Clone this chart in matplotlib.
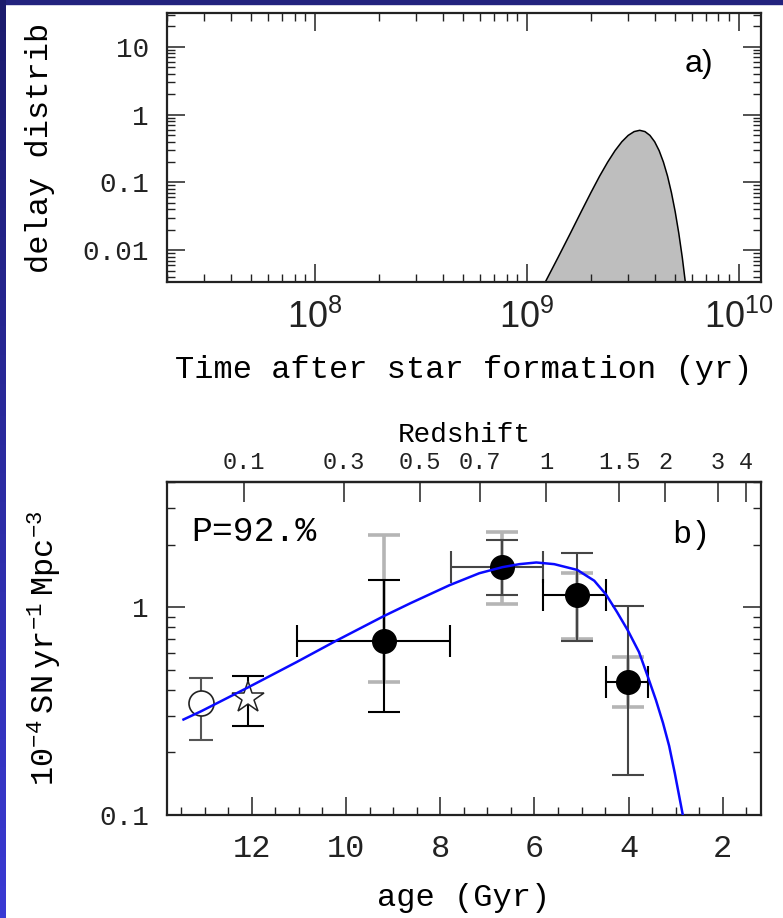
import numpy as np
import matplotlib
matplotlib.use("Agg")
import matplotlib.pyplot as plt
from matplotlib.ticker import FixedLocator, NullLocator, LogLocator, MultipleLocator, NullFormatter
from matplotlib.colors import LinearSegmentedColormap
from matplotlib.patches import Rectangle

# ---------------- data ----------------
# panel a: delay-time distribution (time in Gyr, value)
dtd_time_gyr = [1.22, 1.4, 1.6, 1.8, 2.0, 2.2, 2.4, 2.6, 2.8, 3.0, 3.2, 3.4,
                3.6, 3.8, 4.0, 4.2, 4.4, 4.6, 4.8, 5.0, 5.2, 5.4, 5.58]
dtd_value = [0.0034, 0.0078, 0.0177, 0.0369, 0.0705, 0.124, 0.199, 0.294, 0.398,
             0.494, 0.562, 0.587, 0.562, 0.494, 0.398, 0.294, 0.199, 0.124,
             0.0705, 0.0369, 0.0177, 0.0078, 0.0034]

# panel b: model SN Ia rate (age in Gyr, rate)
model_age = [13.45, 13.07, 12.07, 11.05, 10.22, 9.20, 8.63, 7.80, 7.17, 6.68, 6.32,
             5.96, 5.58, 5.09, 4.73, 4.48, 4.25, 4.02, 3.78, 3.59, 3.42, 3.27,
             3.14, 3.02, 2.85]
model_rate = [0.288, 0.316, 0.412, 0.544, 0.687, 0.905, 1.045, 1.276, 1.456, 1.557,
              1.61, 1.64, 1.61, 1.51, 1.34, 1.15, 0.95, 0.775, 0.608, 0.461,
              0.357, 0.277, 0.215, 0.159, 0.100]

# filled points
pt_age = [9.20, 6.68, 5.09, 4.02]
pt_rate = [0.687, 1.56, 1.15, 0.437]
pt_age_old = [11.05, 7.78, 5.81, 4.49]   # older edge of bin (left)
pt_age_young = [7.79, 5.81, 4.49, 3.59]  # younger edge of bin (right)
stat_lo = [0.314, 1.15, 0.687, 0.156]
stat_hi = [1.35, 2.10, 1.82, 1.01]
sys_lo = [0.437, 1.03, 0.70, 0.332]
sys_hi = [2.22, 2.30, 1.46, 0.577]

# open circle and open star
circ_age, circ_rate, circ_lo, circ_hi = 13.07, 0.344, 0.229, 0.457
star_age, star_rate, star_lo, star_hi = 12.07, 0.364, 0.269, 0.466

redshift_ticks = [0.1, 0.3, 0.5, 0.7, 1, 1.5, 2, 3, 4]
redshift_labels = ["0.1", "0.3", "0.5", "0.7", "1", "1.5", "2", "3", "4"]
age_ticks = [2, 4, 6, 8, 10, 12]
age_labels = ["2", "4", "6", "8", "10", "12"]

# ---------------- style ----------------
plt.rcParams['font.family'] = ['Liberation Mono', 'DejaVu Sans']
plt.rcParams['mathtext.fontset'] = 'custom'
plt.rcParams['mathtext.rm'] = 'Liberation Mono'
plt.rcParams['mathtext.it'] = 'Liberation Mono:italic'
plt.rcParams['mathtext.bf'] = 'Liberation Mono:bold'
plt.rcParams['mathtext.sf'] = 'Liberation Sans'

W, H = 783, 918
fig = plt.figure(figsize=(W / 100, H / 100), dpi=100)
fig.patch.set_facecolor('white')

# blue border strips
cmap = LinearSegmentedColormap.from_list('b', ['#1b1b6c', '#3a3ad4'])
bl = fig.add_axes([0, 0, 6 / W, 1])
bl.imshow(np.linspace(0, 1, 256)[:, None], aspect='auto', cmap=cmap, origin='upper')
bl.set_axis_off()
fig.add_artist(Rectangle((0, 1 - 4 / H), 1, 4 / H, transform=fig.transFigure,
                         color='#23237e', zorder=0))

SP = 1.6
ax1 = fig.add_axes([167 / W, 1 - 282 / H, 594 / W, 269 / H])
ax2 = fig.add_axes([167 / W, 1 - 815 / H, 594 / W, 333 / H])

# ---------------- panel a ----------------
t_yr = [t * 1e9 for t in dtd_time_gyr]
ax1.set_xscale('log')
ax1.set_yscale('log')
ax1.fill_between(t_yr, dtd_value, 1e-6, facecolor='#bebebe', edgecolor='none', zorder=1)
ax1.plot(t_yr, dtd_value, color='black', lw=1.1, zorder=2)
ax1.set_xlim(2e7, 1.27e10)
ax1.set_ylim(10 ** -2.47, 10 ** 1.5)
ax1.xaxis.set_major_locator(FixedLocator([1e8, 1e9, 1e10]))
ax1.set_xticklabels([r'$\mathsf{10^{8}}$', r'$\mathsf{10^{9}}$', r'$\mathsf{10^{10}}$'],
                    fontsize=26)
ax1.xaxis.set_minor_locator(LogLocator(base=10, subs=np.arange(2, 10)))
ax1.xaxis.set_minor_formatter(NullFormatter())
ax1.yaxis.set_major_locator(FixedLocator([0.01, 0.1, 1, 10]))
ax1.set_yticklabels(['0.01', '0.1', '1', '10'], fontsize=20)
ax1.yaxis.set_minor_locator(LogLocator(base=10, subs=np.arange(2, 10)))
ax1.yaxis.set_minor_formatter(NullFormatter())
ax1.tick_params(which='both', direction='in', top=True, right=True, colors='#222222')
ax1.tick_params(which='major', length=13, width=1.1)
ax1.tick_params(which='minor', length=6, width=1.0)
ax1.tick_params(axis='x', which='major', pad=13)
ax1.tick_params(axis='y', which='major', pad=13)
for s in ax1.spines.values():
    s.set_linewidth(SP)
    s.set_color('#222222')
ax1.set_xlabel('Time after star formation (yr)', fontsize=23)
ax1.xaxis.set_label_coords(0.5, -0.327)
ax1.xaxis.label.set_va('center')
ax1.set_ylabel('delay distrib', fontsize=23)
ax1.yaxis.set_label_coords(-0.214, 0.5)
ax1.yaxis.label.set_va('center')
ax1.text(0.919, 0.81, 'a)', transform=ax1.transAxes, ha='right', va='center',
         fontsize=23, family='Liberation Sans')

# ---------------- panel b ----------------
ax2.set_yscale('log')
ax2.set_xlim(13.8, 1.19)
ax2.set_ylim(0.1, 4.0)

pa = np.array(pt_age)
pr = np.array(pt_rate)
sys_err = [pr - np.array(sys_lo), np.array(sys_hi) - pr]
ax2.errorbar(pa, pr, yerr=sys_err, fmt='none', ecolor='#b5b5b5', elinewidth=2.6,
             capsize=11.4, capthick=2.6, zorder=2)

v_colors = ['black', '#454545', '#454545', '#454545']
h_colors = ['black', '#454545', 'black', 'black']
for i in range(len(pt_age)):
    ax2.errorbar([pt_age[i]], [pt_rate[i]],
                 yerr=[[pt_rate[i] - stat_lo[i]], [stat_hi[i] - pt_rate[i]]],
                 fmt='none', ecolor=v_colors[i], elinewidth=1.5, capsize=11.4,
                 capthick=1.5, zorder=3)
    ax2.errorbar([pt_age[i]], [pt_rate[i]],
                 xerr=[[pt_age[i] - pt_age_young[i]], [pt_age_old[i] - pt_age[i]]],
                 fmt='none', ecolor=h_colors[i], elinewidth=1.5, capsize=11.4,
                 capthick=1.5, zorder=3)

ax2.errorbar([circ_age], [circ_rate], yerr=[[circ_rate - circ_lo], [circ_hi - circ_rate]],
             fmt='none', ecolor='#555555', elinewidth=1.5, capsize=8.8, capthick=1.5,
             zorder=3)
ax2.errorbar([star_age], [star_rate], yerr=[[star_rate - star_lo], [star_hi - star_rate]],
             fmt='none', ecolor='black', elinewidth=1.5, capsize=11.4, capthick=1.5,
             zorder=3)

ax2.plot(pa, pr, 'o', color='black', ms=17, zorder=5)
ax2.plot([circ_age], [circ_rate], 'o', mfc='white', mec='#222222', mew=1.2, ms=18, zorder=5)
ax2.plot([star_age], [star_rate], '*', mfc='white', mec='#222222', mew=1.1, ms=24, zorder=5)

ax2.plot(model_age, model_rate, color='#0a0aff', lw=1.8, zorder=6)

ax2.xaxis.set_major_locator(FixedLocator(age_ticks))
ax2.set_xticklabels(age_labels, fontsize=23)
ax2.xaxis.set_minor_locator(MultipleLocator(0.5))
ax2.yaxis.set_major_locator(FixedLocator([0.1, 1]))
ax2.set_yticklabels(['0.1', '1'], fontsize=20)
ax2.yaxis.set_minor_locator(LogLocator(base=10, subs=np.arange(2, 10)))
ax2.yaxis.set_minor_formatter(NullFormatter())
ax2.tick_params(which='both', direction='in', top=False, right=True, colors='#222222')
ax2.tick_params(which='major', length=13, width=1.1)
ax2.tick_params(which='minor', length=6, width=1.0)
ax2.tick_params(axis='x', which='major', pad=14)
ax2.tick_params(axis='y', which='major', pad=13)
for s in ax2.spines.values():
    s.set_linewidth(SP)
    s.set_color('#222222')
ax2.set_xlabel('age (Gyr)', fontsize=23)
ax2.xaxis.set_label_coords(0.5, -0.249)
ax2.xaxis.label.set_va('center')
ax2.set_ylabel(r'$\mathrm{10^{-4}\ SN\ yr^{-1}\ Mpc^{-3}}$', fontsize=23)
ax2.yaxis.set_label_coords(-0.205, 0.5)
ax2.yaxis.label.set_va('center')

ax2.text(0.041, 0.85, 'P=92.%', transform=ax2.transAxes, ha='left', va='center', fontsize=25)
ax2.text(0.916, 0.84, 'b)', transform=ax2.transAxes, ha='right', va='center', fontsize=23)

# redshift axis (flat LCDM, H0=70, Om=0.3)
A_GYR = 11.13
K_COS = 1.5275


def age_to_z(a):
    a = np.clip(np.asarray(a, dtype=float), 1e-3, None)
    s = np.sinh(a / A_GYR) / K_COS
    return s ** (-2.0 / 3.0) - 1.0


def z_to_age(z):
    zp = np.clip(1.0 + np.asarray(z, dtype=float), 1e-3, None)
    return A_GYR * np.arcsinh(K_COS * zp ** -1.5)


sec = ax2.secondary_xaxis('top', functions=(age_to_z, z_to_age))
sec.set_xticks(redshift_ticks)
sec.set_xticklabels(redshift_labels, fontsize=17)
sec.xaxis.set_minor_locator(NullLocator())
sec.tick_params(direction='in', length=14.4, width=1.1, pad=6, colors='#222222')
sec.spines['top'].set_linewidth(SP)
sec.spines['top'].set_color('#222222')
sec.set_xlabel('Redshift', fontsize=20, labelpad=6)

fig.savefig('out.png', dpi=100)
